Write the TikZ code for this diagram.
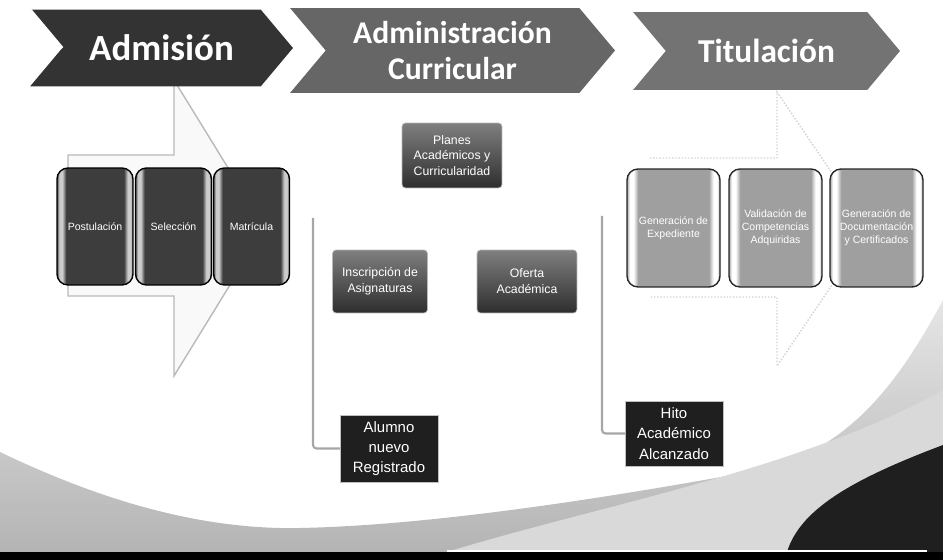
\documentclass[tikz,border=0pt]{standalone}
\usepackage{fontspec}
\setmainfont{Carlito}
\newfontfamily\boxfont{Liberation Sans}
\usetikzlibrary{shapes.symbols}

\pgfdeclarehorizontalshading{darkglass}{100bp}{color(0bp)=(black!70); color(25bp)=(black!70); color(26.5bp)=(gray!40); color(28.5bp)=(gray!40); color(31bp)=(black!76); color(69bp)=(black!76); color(71.5bp)=(gray!40); color(73.5bp)=(gray!40); color(75bp)=(black!70); color(100bp)=(black!70)}
\pgfdeclarehorizontalshading{greyglass}{100bp}{color(0bp)=(gray!70); color(25bp)=(gray!70); color(26.5bp)=(white); color(28.5bp)=(white); color(31bp)=(gray!75); color(69bp)=(gray!75); color(71.5bp)=(white); color(73.5bp)=(white); color(75bp)=(gray!70); color(100bp)=(gray!70)}

\begin{document}
\begin{tikzpicture}[x=0.02cm, y=-0.02cm, every node/.style={outer sep=0pt, align=center},
        stage/.style={signal, signal from=west, signal to=east, signal pointer angle=100, inner sep=0pt, text=white, font=\fontsize{19}{21}\selectfont\bfseries},
        admbox/.style={rounded corners=0.22cm, minimum width=1.52cm, minimum height=2.34cm, draw=black, line width=0.8pt, shading=darkglass, text=white, font=\boxfont\fontsize{6}{7.5}\selectfont},
        titbox/.style={rounded corners=0.22cm, minimum width=1.86cm, minimum height=2.36cm, draw=black!85, line width=0.8pt, shading=greyglass, text=white, font=\boxfont\fontsize{6}{7.5}\selectfont},
        curbox/.style={rounded corners=2pt, draw=gray!55, top color=black!50, bottom color=black!82, text=white, font=\boxfont\fontsize{7}{9}\selectfont},
        mark box/.style={fill=black!88, draw=gray!50, minimum width=1.96cm, text=white, font=\boxfont\fontsize{8.5}{11.5}\selectfont},
        link/.style={draw=gray!70, line width=1.2pt, rounded corners=2pt}]
    \useasboundingbox (0,0) rectangle (943,560);

    % fondo inferior
    \shade[top color=gray!20, bottom color=gray!60] (0,452) .. controls (100,500) and (200,530) .. (300,528)
        .. controls (450,525) and (650,490) .. (760,470) .. controls (850,450) and (900,380) .. (943,300)
        -- (943,560) -- (0,560) -- cycle;
    \fill[gray!30] (447,552) .. controls (600,505) and (800,470) .. (943,390) -- (943,552) -- cycle;
    \fill[black!88] (787,552) .. controls (800,510) and (850,480) .. (943,445) -- (943,552) -- cycle;
    \fill[black] (0,552) rectangle (943,560);
    \draw[white, line width=1pt] (447,551) -- (927,551);

    % flechas de fondo
    \filldraw[fill=gray!5, draw=gray!55, line width=0.8pt]
        (68,155) -- (174,155) -- (174,80) -- (265,228) -- (174,376) -- (174,296) -- (68,296) -- cycle;
    \draw[gray!35, densely dotted, line width=0.8pt]
        (650,158) -- (777,158) -- (777,92) -- (870,229) -- (777,366) -- (777,297) -- (650,297);

    % etapas
    \node[stage, fill=black!80, minimum width=5.26cm, minimum height=1.54cm, font=\fontsize{21}{23}\selectfont\bfseries](admision) at (161.5,48) {Admisión};
    \node[stage, fill=black!60, minimum width=6.5cm, minimum height=1.7cm, font=\fontsize{18}{21}\selectfont\bfseries](curricular) at (452.5,50.5) {Administración\\Curricular};
    \node[stage, fill=black!55, minimum width=5.34cm, minimum height=1.56cm](titulacion) at (766.5,51) {Titulación};
    \draw[white, line width=1.5pt] (admision.north west) -- (admision.west);

    % admision
    \node[admbox](postulacion) at (95,226.5) {Postulación};
    \node[admbox](seleccion) at (173.5,226.5) {Selección};
    \node[admbox](matricula) at (251.5,226.5) {Matrícula};

    % administracion curricular
    \node[curbox, minimum width=2cm, minimum height=1.3cm](planes) at (452,155.5) {Planes\\Académicos y\\Curricularidad};
    \node[curbox, minimum width=1.9cm, minimum height=1.26cm](inscripcion) at (380,281.5) {Inscripción de\\Asignaturas};
    \node[curbox, minimum width=2cm, minimum height=1.26cm](oferta) at (527,281.5) {Oferta\\Académica};

    % titulacion
    \node[titbox](expediente) at (673.5,228) {Generación de\\Expediente};
    \node[titbox](competencias) at (775.5,228) {Validación de\\Competencias\\Adquiridas};
    \node[titbox](certificados) at (876.5,228) {Generación de\\Documentación\\y Certificados};

    % hitos
    \node[mark box, minimum height=1.34cm](alumno) at (389,448.5) {Alumno\\nuevo\\Registrado};
    \node[mark box, minimum height=1.3cm](hito) at (674,433.5) {Hito\\Académico\\Alcanzado};

    \coordinate (admTop) at (313,218);
    \coordinate (titTop) at (602,216);
    \draw[link] (admTop) |- (alumno.west);
    \draw[link] (titTop) |- (hito.west);
\end{tikzpicture}
\end{document}
